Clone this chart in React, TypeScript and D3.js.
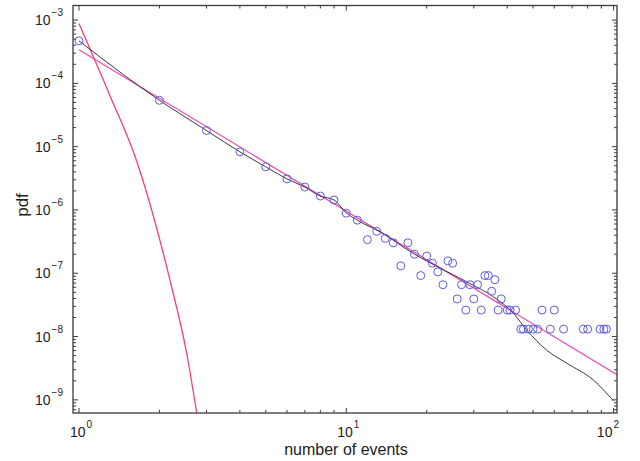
import React from "react";
import * as d3 from "d3";

// ---------- data ----------
const pointX = [
  1, 2, 3, 4, 5, 6, 7, 8, 9, 10, 11, 12, 13, 14, 15, 16, 17, 18, 19, 20, 21, 22, 23, 24, 25,
  26, 27, 28, 29, 30, 31, 32, 33, 34, 35, 36, 37, 38, 40, 41, 43,
  45, 46, 48, 50, 52, 54, 58, 60, 65, 77, 80, 89, 92, 94,
];
const pointY = [
  4.7e-4, 5.4e-5, 1.8e-5, 8.3e-6, 4.8e-6, 3.1e-6, 2.3e-6, 1.66e-6, 1.44e-6, 8.9e-7, 6.9e-7,
  3.4e-7, 4.6e-7, 3.56e-7, 3.03e-7, 1.31e-7, 3.03e-7, 2.0e-7, 9.2e-8, 1.87e-7, 1.44e-7, 1.05e-7,
  6.6e-8, 1.57e-7, 1.44e-7,
  3.93e-8, 6.6e-8, 2.62e-8, 6.6e-8, 3.93e-8, 6.6e-8, 2.62e-8, 9.2e-8, 9.2e-8, 5.2e-8, 7.9e-8,
  2.62e-8, 3.93e-8, 2.62e-8, 2.62e-8, 2.62e-8,
  1.31e-8, 1.31e-8, 1.31e-8, 1.31e-8, 1.31e-8, 2.62e-8, 1.31e-8, 2.62e-8, 1.31e-8, 1.31e-8,
  1.31e-8, 1.31e-8, 1.31e-8, 1.31e-8,
];

// black empirical/smoothed curve
const smoothX = [1, 2, 3, 4, 5, 6, 7, 8, 9, 10, 11, 13.4, 17.8, 23.8, 29, 35.5, 42.2, 47.3, 56.2, 66.8, 84, 99.8];
const smoothY = [
  4.7e-4, 5.4e-5, 1.8e-5, 8.3e-6, 4.8e-6, 3.1e-6, 2.3e-6, 1.66e-6, 1.44e-6, 9.0e-7, 6.9e-7,
  4.5e-7, 2.06e-7, 1.06e-7, 6.9e-8, 4.26e-8, 2.33e-8, 1.27e-8, 6.1e-9, 3.8e-9, 2.06e-9, 9.7e-10,
];

// straight power-law fit (pink/magenta)
const fitX = [1, 103];
const fitY = [3.4e-4, 2.5e-9];

// steep red-pink curve
const steepX = [1, 1.3, 1.64, 2.19, 2.53, 2.76];
const steepY = [8.8e-4, 6.7e-5, 6.1e-6, 7.8e-8, 5.4e-9, 6.1e-10];

const xMajor = [1, 10, 100];
const xMajorExp = ["0", "1", "2"];
const yMajor = [1e-9, 1e-8, 1e-7, 1e-6, 1e-5, 1e-4, 1e-3];
const yMajorExp = ["−9", "−8", "−7", "−6", "−5", "−4", "−3"];

// ---------- layout ----------
const W = 640;
const H = 461;
const LEFT = 73;
const RIGHT = 617;
const TOP = 5.5;
const BOTTOM = 413;
const X_DOMAIN = [0.95, 103];
const Y_DOMAIN = [6.2e-10, 1.7e-3];

const FONT = "'Liberation Sans', Arial, Helvetica, sans-serif";
const AXIS = "#3a3a3a";

export default function App() {
  const x = d3.scaleLog().domain(X_DOMAIN).range([LEFT, RIGHT]);
  const y = d3.scaleLog().domain(Y_DOMAIN).range([BOTTOM, TOP]);

  const lin = d3
    .line<[number, number]>()
    .x((d) => x(d[0]))
    .y((d) => y(d[1]));
  const smoothLine = d3
    .line<[number, number]>()
    .x((d) => x(d[0]))
    .y((d) => y(d[1]))
    .curve(d3.curveMonotoneX);

  const zip = (a: number[], b: number[]) => a.map((v, i) => [v, b[i]] as [number, number]);

  // minor ticks
  const xMinor: number[] = [];
  for (const dec of [1, 10]) for (let k = 2; k <= 9; k++) xMinor.push(k * dec);
  const yMinor: number[] = [];
  for (let e = -10; e <= -3; e++)
    for (let k = 2; k <= 9; k++) {
      const v = k * Math.pow(10, e);
      if (v >= Y_DOMAIN[0] && v <= Y_DOMAIN[1]) yMinor.push(v);
    }

  const MAJ = 5;
  const MIN = 3;

  return (
    <svg
      width={W}
      height={H}
      style={{ position: "absolute", left: 0, top: 0, background: "#fff" }}
      fontFamily={FONT}
    >
      <defs>
        <clipPath id="plotclip">
          <rect x={LEFT} y={TOP} width={RIGHT - LEFT} height={BOTTOM - TOP} />
        </clipPath>
      </defs>
      <rect x={0} y={0} width={W} height={H} fill="#fff" />

      <g clipPath="url(#plotclip)">
        <path d={lin(zip(fitX, fitY)) || ""} fill="none" stroke="#ee44b4" strokeWidth={1.2} />
        <path d={smoothLine(zip(steepX, steepY)) || ""} fill="none" stroke="#ff3a78" strokeWidth={1.3} />
        <path d={smoothLine(zip(smoothX, smoothY)) || ""} fill="none" stroke="#222" strokeWidth={0.9} />
        {pointX.map((px, i) => (
          <circle
            key={i}
            cx={x(px)}
            cy={y(pointY[i])}
            r={4}
            fill="none"
            stroke="#5b5be8"
            strokeWidth={1}
          />
        ))}
      </g>

      {/* frame */}
      <rect
        x={LEFT}
        y={TOP}
        width={RIGHT - LEFT}
        height={BOTTOM - TOP}
        fill="none"
        stroke={AXIS}
        strokeWidth={1.3}
      />

      {/* x ticks (bottom and top, inward) */}
      {xMajor.map((v) => (
        <g key={"xM" + v}>
          <line x1={x(v)} x2={x(v)} y1={BOTTOM} y2={BOTTOM - MAJ} stroke={AXIS} />
          <line x1={x(v)} x2={x(v)} y1={TOP} y2={TOP + MAJ} stroke={AXIS} />
        </g>
      ))}
      {xMinor.map((v) => (
        <g key={"xm" + v}>
          <line x1={x(v)} x2={x(v)} y1={BOTTOM} y2={BOTTOM - MIN} stroke={AXIS} />
          <line x1={x(v)} x2={x(v)} y1={TOP} y2={TOP + MIN} stroke={AXIS} />
        </g>
      ))}
      {/* y ticks (left and right, inward) */}
      {yMajor.map((v) => (
        <g key={"yM" + v}>
          <line x1={LEFT} x2={LEFT + MAJ} y1={y(v)} y2={y(v)} stroke={AXIS} />
          <line x1={RIGHT} x2={RIGHT - MAJ} y1={y(v)} y2={y(v)} stroke={AXIS} />
        </g>
      ))}
      {yMinor.map((v) => (
        <g key={"ym" + v}>
          <line x1={LEFT} x2={LEFT + MIN} y1={y(v)} y2={y(v)} stroke={AXIS} />
          <line x1={RIGHT} x2={RIGHT - MIN} y1={y(v)} y2={y(v)} stroke={AXIS} />
        </g>
      ))}

      {/* y tick labels */}
      {yMajor.map((v, i) => (
        <text key={"yl" + v} x={63} y={y(v) + 5} textAnchor="end" fontSize={14} fill="#222">
          <tspan>10</tspan>
          <tspan fontSize={10} dy={-9} dx={1}>
            {yMajorExp[i]}
          </tspan>
        </text>
      ))}

      {/* x tick labels */}
      {xMajor.map((v, i) => {
        const last = i === xMajor.length - 1;
        return (
          <text
            key={"xl" + v}
            x={last ? 619 : x(v) + 2}
            y={437}
            textAnchor={last ? "end" : "middle"}
            fontSize={14}
            fill="#222"
          >
            <tspan>10</tspan>
            <tspan fontSize={10} dy={-9} dx={1}>
              {xMajorExp[i]}
            </tspan>
          </text>
        );
      })}

      {/* axis titles */}
      <text x={346} y={455} textAnchor="middle" fontSize={16} fill="#222">
        number of events
      </text>
      <text
        transform={`translate(28, 205) rotate(-90)`}
        textAnchor="middle"
        fontSize={17}
        fill="#222"
      >
        pdf
      </text>
    </svg>
  );
}
